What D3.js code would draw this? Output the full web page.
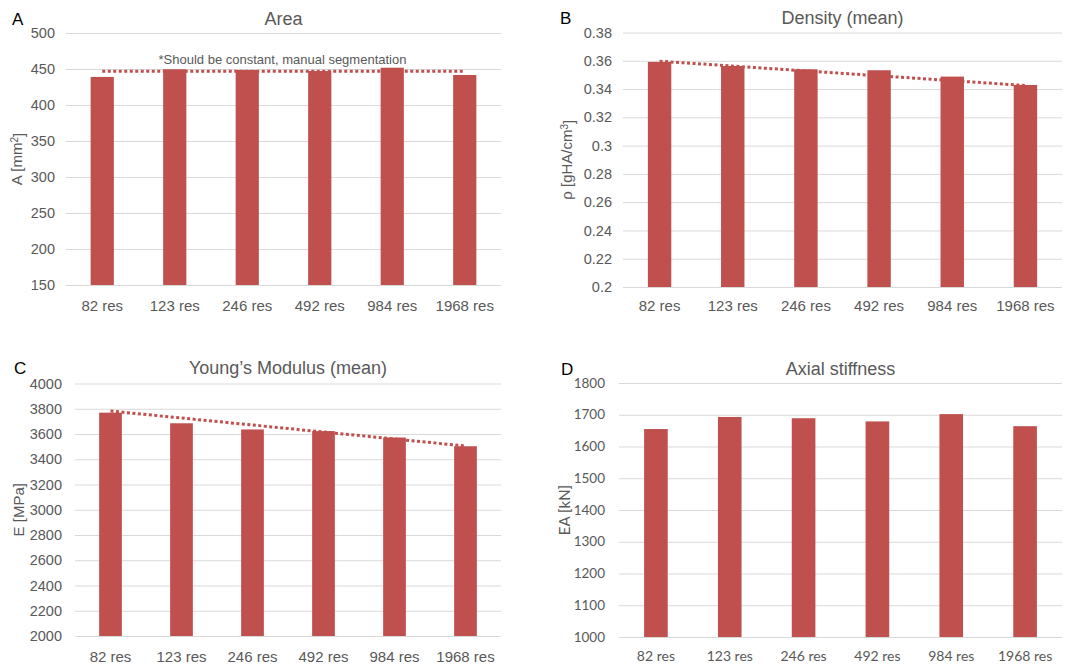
<!DOCTYPE html>
<html>
<head>
<meta charset="utf-8">
<style>
  body { margin: 0; background: #fff; }
  text { fill: #595959; }
</style>
</head>
<body>
<svg width="1070" height="666"></svg>
<script src="https://cdn.jsdelivr.net/npm/d3@7/dist/d3.min.js"></script>
<script>
var categories = ["82 res", "123 res", "246 res", "492 res", "984 res", "1968 res"];

var areaValues = [439, 449.6, 448.6, 447.2, 451.8, 441.7];
var areaTicks = [150, 200, 250, 300, 350, 400, 450, 500];
var areaTrend = [447, 447];

var densityValues = [0.3592, 0.3563, 0.354, 0.3533, 0.3488, 0.3429];
var densityTicks = [0.2, 0.22, 0.24, 0.26, 0.28, 0.3, 0.32, 0.34, 0.36, 0.38];
var densityTrend = [0.3597, 0.3425];

var modulusValues = [3769, 3685, 3636, 3623, 3572, 3503];
var modulusTicks = [2000, 2200, 2400, 2600, 2800, 3000, 3200, 3400, 3600, 3800, 4000];
var modulusTrend = [3782, 3505];

var stiffnessValues = [1655, 1693, 1689, 1679, 1702, 1664];
var stiffnessTicks = [1000, 1100, 1200, 1300, 1400, 1500, 1600, 1700, 1800];

var svg = d3.select("svg");
var barColor = "#c0504d";
var arial = "Liberation Sans, Arial, sans-serif";

var panels = [
  { letter: "A", title: "Area", values: areaValues, ticks: areaTicks, trend: areaTrend,
    yLabel: ["A [mm", "2", "]"], left: 66, right: 501, top: 33, bottom: 285,
    letterX: 12, titleY: 25, tickX: 55, labelX: 22, xLabelY: 311, font: arial, size: 15,
    note: "*Should be constant, manual segmentation" },
  { letter: "B", title: "Density (mean)", values: densityValues, ticks: densityTicks, trend: densityTrend,
    yLabel: ["\u03c1 [gHA/cm", "3", "]"], left: 623, right: 1062, top: 32.5, bottom: 287,
    letterX: 560, titleY: 24, tickX: 612, labelX: 572, xLabelY: 311, font: arial, size: 15,
    fmt: d3.format("~g") },
  { letter: "C", title: "Young\u2019s Modulus (mean)", values: modulusValues, ticks: modulusTicks, trend: modulusTrend,
    yLabel: ["E [MPa]"], left: 75, right: 501, top: 383.5, bottom: 636,
    letterX: 14, titleY: 374, tickX: 62, labelX: 24, xLabelY: 662, font: arial, size: 15 },
  { letter: "D", title: "Axial stiffness", values: stiffnessValues, ticks: stiffnessTicks,
    yLabel: ["EA [kN]"], left: 619, right: 1062, top: 383, bottom: 637,
    letterX: 561, titleY: 375, tickX: 605, labelX: 570, xLabelY: 661, font: "Lato, 'Open Sans', sans-serif", size: 14 }
];

panels.forEach(function (p) {
  var g = svg.append("g").style("font-family", p.font);

  var x = d3.scaleBand().domain(categories).range([p.left, p.right]).paddingInner(0.68).paddingOuter(0.34);
  var y = d3.scaleLinear().domain([p.ticks[0], p.ticks[p.ticks.length - 1]]).range([p.bottom, p.top]);

  // gridlines
  g.append("g")
    .attr("transform", "translate(" + p.left + ",0)")
    .call(d3.axisLeft(y).tickValues(p.ticks).tickSize(-(p.right - p.left)).tickFormat(""))
    .call(function (a) { a.select(".domain").remove(); })
    .selectAll("line").attr("stroke", "#d9d9d9").attr("stroke-width", 1);

  // y tick labels
  g.append("g").selectAll("text")
    .data(p.ticks).enter().append("text")
    .attr("x", p.tickX)
    .attr("y", function (d) { return y(d); })
    .attr("dy", "0.35em")
    .attr("text-anchor", "end")
    .style("font-size", (p.size - 0.5) + "px")
    .text(function (d) { return p.fmt ? p.fmt(d) : d; });

  // bars
  g.append("g").selectAll("rect")
    .data(p.values).enter().append("rect")
    .attr("x", function (d, i) { return x(categories[i]); })
    .attr("y", function (d) { return y(d); })
    .attr("width", x.bandwidth())
    .attr("height", function (d) { return y(p.ticks[0]) - y(d); })
    .attr("fill", barColor);

  // trendline
  if (p.trend) {
    var first = categories[0], last = categories[categories.length - 1];
    g.append("line")
      .attr("x1", x(first) + x.bandwidth() / 2)
      .attr("x2", x(last) + x.bandwidth() / 2)
      .attr("y1", y(p.trend[0]))
      .attr("y2", y(p.trend[1]))
      .attr("stroke", barColor)
      .attr("stroke-width", 3)
      .attr("stroke-dasharray", "3,2.5");
  }

  // x labels
  g.append("g").selectAll("text")
    .data(categories).enter().append("text")
    .attr("x", function (d) { return x(d) + x.bandwidth() / 2; })
    .attr("y", p.xLabelY)
    .attr("text-anchor", "middle")
    .style("font-size", p.size + "px")
    .text(function (d) { return d; });

  // title
  g.append("text")
    .attr("x", (p.left + p.right) / 2)
    .attr("y", p.titleY)
    .attr("text-anchor", "middle")
    .style("font-size", "18px")
    .style("font-family", arial)
    .text(p.title);

  // panel letter
  g.append("text")
    .attr("x", p.letterX)
    .attr("y", p.titleY)
    .style("font-size", "17px")
    .style("font-family", arial)
    .style("fill", "#000")
    .text(p.letter);

  // y axis label
  var lab = g.append("text")
    .attr("transform", "translate(" + p.labelX + "," + (p.top + p.bottom) / 2 + ") rotate(-90)")
    .attr("text-anchor", "middle")
    .style("font-size", "15px");
  lab.append("tspan").text(p.yLabel[0]);
  if (p.yLabel.length > 1) {
    lab.append("tspan").attr("dy", "-0.45em").style("font-size", "10px").text(p.yLabel[1]);
    lab.append("tspan").attr("dy", "0.45em").text(p.yLabel[2]);
  }

  // annotation
  if (p.note) {
    g.append("text")
      .attr("x", (p.left + p.right) / 2 - 1)
      .attr("y", 64)
      .attr("text-anchor", "middle")
      .style("font-size", "13px")
      .text(p.note);
  }
});
</script>
</body>
</html>
